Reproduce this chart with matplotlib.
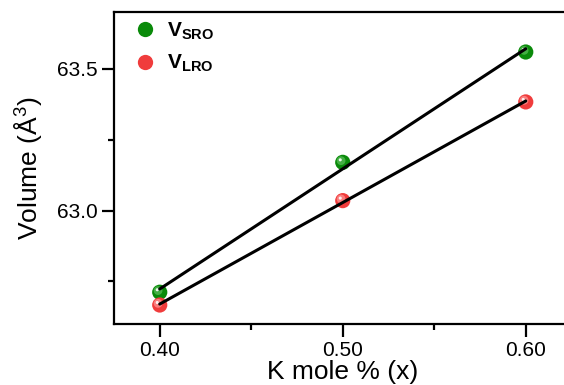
import numpy as np
import matplotlib
matplotlib.use("Agg")
import matplotlib.pyplot as plt
import matplotlib.transforms as mtransforms
from matplotlib.lines import Line2D

plt.rcParams['font.family'] = ['Liberation Sans', 'DejaVu Sans']
plt.rcParams['mathtext.fontset'] = 'custom'
plt.rcParams['mathtext.rm'] = 'Liberation Sans'
plt.rcParams['mathtext.bf'] = 'Liberation Sans:bold'

# K content and refined cell volumes
k_mole = [0.40, 0.50, 0.60]
v_sro = [62.712, 63.170, 63.559]
v_lro = [62.667, 63.035, 63.383]

series_labels = [r'$\mathbf{V_{SRO}}$', r'$\mathbf{V_{LRO}}$']
series_colors = ['#0a8a0a', '#f03c3c']
highlight_colors = ['#5cc05c', '#ff9a9a']

fig = plt.figure(figsize=(5.64, 3.85), dpi=100)
ax = fig.add_axes([0.2021, 0.1584, 0.8112, 0.8104])


def sphere(ax, x, y, color, light):
    # flat disc plus a soft highlight towards the upper left
    ax.scatter(x, y, s=120, color=color, edgecolors='none', zorder=3)
    off = mtransforms.offset_copy(ax.transData, fig=fig, x=-1.2, y=1.2, units='points')
    ax.scatter(x, y, s=40, color=light, edgecolors='none', zorder=3, transform=off, alpha=0.7)
    off2 = mtransforms.offset_copy(ax.transData, fig=fig, x=-1.8, y=1.8, units='points')
    ax.scatter(x, y, s=5, color='white', edgecolors='none', zorder=3, transform=off2, alpha=0.9)


for vals, col, light in zip([v_sro, v_lro], series_colors, highlight_colors):
    sphere(ax, k_mole, vals, col, light)
    slope, icpt = np.polyfit(k_mole, vals, 1)
    xs = np.array([k_mole[0], k_mole[-1]])
    ax.plot(xs, slope * xs + icpt, color='black', lw=2.2, zorder=4, solid_capstyle='round')

ax.set_xlim(0.375, 0.625)
ax.set_ylim(62.60, 63.70)
ax.set_xticks([0.40, 0.50, 0.60])
ax.set_xticks([0.45, 0.55], minor=True)
ax.set_yticks([63.0, 63.5])
ax.set_yticks([62.75, 63.25], minor=True)
ax.set_xticklabels(['0.40', '0.50', '0.60'])
ax.set_yticklabels(['63.0', '63.5'])

for s in ax.spines.values():
    s.set_linewidth(1.6)
ax.tick_params(which='major', direction='out', length=9, width=1.6, labelsize=15, pad=3)
ax.tick_params(which='minor', direction='out', length=4.5, width=1.6)

ax.set_xlabel('K mole % (x)', fontsize=19, labelpad=0)
ax.set_ylabel(r'Volume (Å$^3$)', fontsize=19, labelpad=8)

handles = [Line2D([], [], marker='o', ls='none', markersize=11, color=c, markeredgewidth=0)
           for c in series_colors]
ax.legend(handles, series_labels, loc='upper left', bbox_to_anchor=(0.009, 1.02),
          frameon=False, fontsize=15, handletextpad=0.45, labelspacing=0.55,
          handlelength=1.2, borderaxespad=0.3)

fig.savefig('out.png', dpi=100)
